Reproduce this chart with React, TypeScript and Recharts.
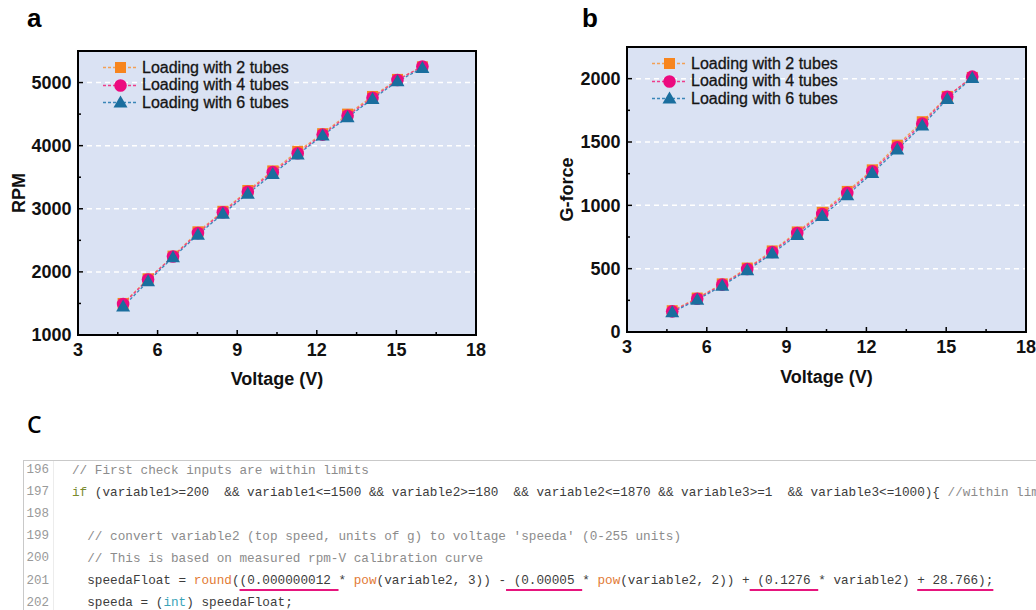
import React from "react";
import {
  LineChart,
  Line,
  XAxis,
  YAxis,
  CartesianGrid,
  ReferenceArea,
  Legend,
  ErrorBar,
} from "recharts";

// voltage steps (V)
const voltage = [4.7, 5.64, 6.58, 7.52, 8.46, 9.4, 10.34, 11.28, 12.22, 13.16, 14.1, 15.04, 15.98];

// panel a: RPM
const rpm2 = [1500, 1890, 2250, 2635, 2960, 3290, 3600, 3910, 4190, 4500, 4780, 5050, 5250];
const rpm4 = [1490, 1880, 2245, 2615, 2945, 3270, 3580, 3880, 4175, 4475, 4760, 5040, 5255];
const rpm6 = [1450, 1850, 2230, 2590, 2920, 3240, 3550, 3860, 4160, 4450, 4740, 5020, 5230];
const rpmErr = [50, 50, 50, 50, 50, 50, 50, 50, 50, 50, 50, 50, 50];

// panel b: G-force
const g2 = [168, 268, 380, 505, 640, 790, 945, 1110, 1280, 1475, 1660, 1860, 2010];
const g4 = [163, 263, 374, 497, 632, 782, 932, 1098, 1269, 1458, 1645, 1857, 2016];
const g6 = [155, 255, 365, 487, 620, 765, 915, 1080, 1255, 1440, 1630, 1840, 2005];
const gErr = [25, 25, 25, 25, 25, 25, 25, 25, 25, 25, 25, 25, 25];

const voltTicks = [3, 6, 9, 12, 15, 18];
const voltMinor = [4.5, 7.5, 10.5, 13.5, 16.5];
const rpmTicks = [1000, 2000, 3000, 4000, 5000];
const rpmMinor = [1500, 2500, 3500, 4500];
const rpmGrid = [2000, 3000, 4000, 5000];
const gTicks = [0, 500, 1000, 1500, 2000];
const gMinor = [250, 750, 1250, 1750];
const gGrid = [500, 1000, 1500, 2000];

const seriesNames = ["Loading with 2 tubes", "Loading with 4 tubes", "Loading with 6 tubes"];
const seriesKeys = ["s2", "s4", "s6"];
const shapes = ["square", "circle", "triangle"];
const markerColors = ["#f7851e", "#ec0a7f", "#1a6e9e"];
const lineColors = ["#f3a055", "#ee3d8a", "#3a86b8"];

const PLOT_BG = "#dae2f3";
const SANS = "'Liberation Sans', Arial, sans-serif";

function Marker({ shape, cx, cy, fill }: any) {
  if (cx == null || cy == null) return null;
  if (shape === "square") {
    return <rect x={cx - 5.5} y={cy - 5.5} width={11} height={11} fill={fill} />;
  }
  if (shape === "circle") {
    return <circle cx={cx} cy={cy} r={6.3} fill={fill} />;
  }
  return (
    <path
      d={`M${cx},${cy - 7} L${cx + 7},${cy + 5} L${cx - 7},${cy + 5} Z`}
      fill={fill}
    />
  );
}

function makeYTick(major: number[]) {
  return (props: any) => {
    const { x, y, payload } = props;
    const isMajor = major.includes(payload.value);
    const ax = x + 6.5;
    return (
      <g>
        <line x1={ax} x2={ax + (isMajor ? 5 : 3)} y1={y} y2={y} stroke="#000" strokeWidth={1.5} />
        {isMajor && (
          <text
            x={x}
            y={y}
            dy="0.36em"
            textAnchor="end"
            fontFamily={SANS}
            fontWeight="bold"
            fontSize={18}
            fill="#111"
          >
            {payload.value}
          </text>
        )}
      </g>
    );
  };
}

function makeXTick(major: number[]) {
  return (props: any) => {
    const { x, y, payload } = props;
    const isMajor = major.includes(payload.value);
    const ay = y - 8;
    return (
      <g>
        <line x1={x} x2={x} y1={ay} y2={ay - (isMajor ? 5 : 3)} stroke="#000" strokeWidth={1.5} />
        {isMajor && (
          <text
            x={x}
            y={y}
            dy="0.71em"
            textAnchor="middle"
            fontFamily={SANS}
            fontWeight="bold"
            fontSize={18}
            fill="#111"
          >
            {payload.value}
          </text>
        )}
      </g>
    );
  };
}

function LegendBox() {
  return (
    <div
      style={{
        fontFamily: SANS,
        fontSize: 16,
        color: "#151515",
        WebkitTextStroke: "0.3px #151515",
      }}
    >
      {seriesNames.map((name, i) => (
        <div key={name} style={{ display: "flex", alignItems: "center", height: 17.5 }}>
          <svg width={35} height={17} style={{ display: "block" }}>
            <line
              x1={0}
              x2={35}
              y1={8.5}
              y2={8.5}
              stroke={lineColors[i]}
              strokeWidth={1.3}
              strokeDasharray="3 2"
            />
            <Marker shape={shapes[i]} cx={17.5} cy={8.5} fill={markerColors[i]} />
          </svg>
          <span style={{ marginLeft: 4, whiteSpace: "nowrap" }}>{name}</span>
        </div>
      ))}
    </div>
  );
}

function CalibChart(props: any) {
  const {
    width,
    height,
    margin,
    yWidth,
    xHeight,
    yDomain,
    yTicks,
    yMinor,
    yGrid,
    yTitle,
    yTitleOffset,
    legendLeft,
    legendTop,
    series,
    errs,
  } = props;

  const data = voltage.map((v, i) => ({
    v,
    s2: series[0][i],
    s4: series[1][i],
    s6: series[2][i],
    err: errs[i],
  }));

  const allY = [...yTicks, ...yMinor].sort((a, b) => a - b);
  const allX = [...voltTicks, ...voltMinor].sort((a, b) => a - b);

  return (
    <LineChart width={width} height={height} data={data} margin={margin}>
      <CartesianGrid
        fill={PLOT_BG}
        vertical={false}
        horizontalValues={yGrid}
        stroke="#ffffff"
        strokeWidth={1.5}
        strokeDasharray="5 4"
      />
      <XAxis
        type="number"
        dataKey="v"
        domain={[3, 18]}
        ticks={allX}
        interval={0}
        height={xHeight}
        axisLine={false}
        tickLine={false}
        tickSize={0}
        tickMargin={8}
        tick={makeXTick(voltTicks)}
        label={{
          value: "Voltage (V)",
          position: "insideBottom",
          offset: 0,
          style: { fontFamily: SANS, fontWeight: "bold", fontSize: 18, fill: "#111" },
        }}
      />
      <YAxis
        type="number"
        domain={yDomain}
        ticks={allY}
        interval={0}
        width={yWidth}
        axisLine={false}
        tickLine={false}
        tickSize={0}
        tickMargin={6.5}
        tick={makeYTick(yTicks)}
        label={{
          value: yTitle,
          angle: -90,
          position: "insideLeft",
          offset: yTitleOffset,
          style: {
            textAnchor: "middle",
            fontFamily: SANS,
            fontWeight: "bold",
            fontSize: 18,
            fill: "#111",
          },
        }}
      />
      <Legend
        layout="vertical"
        align="center"
        verticalAlign="middle"
        content={() => <LegendBox />}
        wrapperStyle={{ left: legendLeft, top: legendTop, width: "auto", height: "auto" }}
      />
      {seriesKeys.map((k, i) => (
        <Line
          key={k}
          dataKey={k}
          name={seriesNames[i]}
          stroke={lineColors[i]}
          strokeWidth={1.3}
          strokeDasharray="3 2"
          isAnimationActive={false}
          dot={(p: any) => (
            <Marker key={`${k}-${p.index}`} shape={shapes[i]} cx={p.cx} cy={p.cy} fill={markerColors[i]} />
          )}
          activeDot={false}
        >
          {i === 2 && (
            <ErrorBar
              dataKey="err"
              direction="y"
              width={4}
              stroke="#2a2a2a"
              strokeWidth={1}
              isAnimationActive={false}
            />
          )}
        </Line>
      ))}
      <ReferenceArea
        x1={3}
        x2={18}
        y1={yDomain[0]}
        y2={yDomain[1]}
        fill="none"
        fillOpacity={0}
        stroke="#000"
        strokeWidth={2}
      />
    </LineChart>
  );
}

type Seg = [string, string?];

const codeColors: Record<string, string> = {
  n: "#3c3c3c",
  c: "#8c8c8c",
  k: "#7a8b2e",
  f: "#e27a35",
  t: "#3aa3b8",
};

const codeLines: { num: number; segs: Seg[] }[] = [
  { num: 196, segs: [["// First check inputs are within limits", "c"]] },
  {
    num: 197,
    segs: [
      ["if", "k"],
      [" (variable1>=200  && variable1<=1500 && variable2>=180  && variable2<=1870 && variable3>=1  && variable3<=1000){ "],
      ["//within limits", "c"],
    ],
  },
  { num: 198, segs: [] },
  {
    num: 199,
    segs: [["  // convert variable2 (top speed, units of g) to voltage 'speeda' (0-255 units)", "c"]],
  },
  { num: 200, segs: [["  // This is based on measured rpm-V calibration curve", "c"]] },
  {
    num: 201,
    segs: [
      ["  speedaFloat = "],
      ["round", "f"],
      ["("],
      ["(0.000000012 ", "u"],
      ["* "],
      ["pow", "f"],
      ["(variable2, 3)) -"],
      [" (0.00005 ", "u"],
      ["* "],
      ["pow", "f"],
      ["(variable2, 2)) +"],
      [" (0.1276 ", "u"],
      ["* variable2) "],
      ["+ 28.766);", "u"],
    ],
  },
  {
    num: 202,
    segs: [["  speeda = ("], ["int", "t"], [") speedaFloat;"]],
  },
];

function CodePanel() {
  return (
    <div
      style={{
        position: "absolute",
        left: 23,
        top: 460,
        width: 1013,
        height: 150,
        borderTop: "1px solid #c9c9c9",
        borderLeft: "1px solid #c9c9c9",
        overflow: "hidden",
        background: "#fff",
      }}
    >
      <div style={{ marginTop: -2 }}>
        {codeLines.map((ln) => (
          <div key={ln.num} style={{ display: "flex", height: 22.1, alignItems: "center" }}>
            <div
              style={{
                width: 25,
                textAlign: "right",
                fontFamily: "'Liberation Mono', monospace",
                fontSize: 12.5,
                color: "#9a9a9a",
                flex: "none",
              }}
            >
              {ln.num}
            </div>
            <div
              style={{
                width: 4,
                alignSelf: "stretch",
                borderRight: "1px solid #ececec",
                flex: "none",
              }}
            />
            <div
              style={{
                marginLeft: 18,
                fontFamily: "'Liberation Mono', monospace",
                fontSize: 12.7,
                whiteSpace: "pre",
                color: codeColors.n,
              }}
            >
              {ln.segs.map((s, j) => {
                const kind = s[1] ?? "n";
                if (kind === "u") {
                  return (
                    <span
                      key={j}
                      style={{
                        color: codeColors.n,
                        textDecoration: "underline",
                        textDecorationColor: "#e6157d",
                        textDecorationThickness: "2px",
                        textUnderlineOffset: "5px",
                      }}
                    >
                      {s[0]}
                    </span>
                  );
                }
                return (
                  <span key={j} style={{ color: codeColors[kind] }}>
                    {s[0]}
                  </span>
                );
              })}
            </div>
          </div>
        ))}
      </div>
    </div>
  );
}

export default function App() {
  return (
    <div
      style={{
        position: "absolute",
        left: 0,
        top: 0,
        width: 1036,
        height: 610,
        background: "#fff",
        overflow: "hidden",
        fontFamily: SANS,
      }}
    >
      <div style={{ position: "absolute", left: 27, top: 0, fontSize: 26, fontWeight: "bold", lineHeight: "36px" }}>
        a
      </div>
      <div style={{ position: "absolute", left: 582, top: 0, fontSize: 26, fontWeight: "bold", lineHeight: "36px" }}>
        b
      </div>
      <div
        style={{
          position: "absolute",
          left: 27,
          top: 409,
          fontSize: 23,
          fontWeight: 600,
          fontFamily: "'Open Sans', sans-serif",
          lineHeight: "30px",
        }}
      >
        C
      </div>

      <div style={{ position: "absolute", left: 0, top: 0 }}>
        <CalibChart
          width={520}
          height={400}
          margin={{ top: 51, right: 44, bottom: 15, left: 20 }}
          yWidth={58}
          xHeight={50}
          yDomain={[1000, 5500]}
          yTicks={rpmTicks}
          yMinor={rpmMinor}
          yGrid={rpmGrid}
          yTitle="RPM"
          yTitleOffset={-1}
          legendLeft={103}
          legendTop={59}
          series={[rpm2, rpm4, rpm6]}
          errs={rpmErr}
        />
      </div>

      <div style={{ position: "absolute", left: 520, top: 0 }}>
        <CalibChart
          width={516}
          height={400}
          margin={{ top: 47, right: 10, bottom: 17, left: 30 }}
          yWidth={77}
          xHeight={51}
          yDomain={[0, 2250]}
          yTicks={gTicks}
          yMinor={gMinor}
          yGrid={gGrid}
          yTitle="G-force"
          yTitleOffset={16.7}
          legendLeft={132}
          legendTop={55}
          series={[g2, g4, g6]}
          errs={gErr}
        />
      </div>

      <CodePanel />
    </div>
  );
}
